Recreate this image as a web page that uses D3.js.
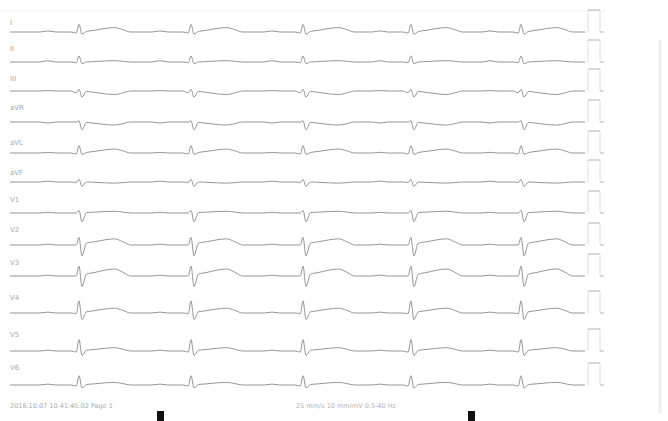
<!DOCTYPE html>
<html>
<head>
<meta charset="utf-8">
<script src="https://cdn.jsdelivr.net/npm/d3@7"></script>
<style>
  html, body { margin: 0; padding: 0; background: #fff; }
  svg { display: block; }
</style>
</head>
<body>
<svg id="ecg" width="668" height="421"></svg>
<script>
// Twelve-lead resting ECG, 25 mm/s, 10 mm/mV

const leads = ["I", "II", "III", "aVR", "aVL", "aVF", "V1", "V2", "V3", "V4", "V5", "V6"];

// QRS peak times (s) of the five captured beats
const beatTimes = [0.300, 0.787, 1.274, 1.743, 2.222];

// Wave amplitudes per lead (mV)
const pAmp = [0.05, 0.06, 0.02, -0.05, 0.03, 0.04, 0.03, 0.04, 0.04, 0.04, 0.04, 0.04];
const qAmp = [-0.05, -0.03, -0.08, 0.00, -0.05, -0.02, 0.00, 0.00, 0.00, -0.03, -0.05, -0.05];
const rAmp = [0.35, 0.28, 0.08, 0.06, 0.33, 0.12, 0.12, 0.35, 0.45, 0.55, 0.52, 0.42];
const sAmp = [-0.10, -0.08, -0.28, -0.36, -0.06, -0.20, -0.40, -0.50, -0.48, -0.30, -0.20, -0.14];
const stAmp = [0.02, 0.00, -0.02, -0.02, 0.02, 0.00, 0.02, 0.08, 0.08, 0.05, 0.03, 0.02];
const tAmp = [0.20, 0.06, -0.16, -0.14, 0.18, -0.05, 0.08, 0.28, 0.32, 0.22, 0.15, 0.12];

// Beat template: time offset from R peak (s) and which wave the point belongs to
const tmplOffsets = [-0.17, -0.135, -0.10, -0.035, -0.012, 0.0, 0.013, 0.032, 0.07, 0.11, 0.155, 0.19, 0.225];
const tmplWaves   = ["0", "P", "0", "0", "Q", "R", "S", "ST", "T1", "T2", "T", "T3", "0"];

const footerLeft = "2016.10.07 10:41:45.02    Page 1";
const footerMid = "25 mm/s  10 mm/mV  0.5-40 Hz";

// ---- layout ----
const W = 668, H = 421;
const svg = d3.select("#ecg");
const rowBase = [32, 62, 91, 122, 153, 182, 213, 245, 276, 313, 351, 385];
const labelY = [23, 49, 79, 108, 143, 173, 200, 230, 263, 298, 335, 368];
const mvPx = 22;

const x = d3.scaleLinear().domain([0, 2.5]).range([10, 585]);

// panel frame
svg.append("rect").attr("x", 0).attr("y", 0).attr("width", W).attr("height", H).attr("fill", "#fff");
svg.append("line").attr("x1", 0).attr("x2", 605).attr("y1", 11).attr("y2", 11)
  .attr("stroke", "#f2f2f2").attr("stroke-width", 1);
svg.append("line").attr("x1", 660).attr("x2", 660).attr("y1", 40).attr("y2", 413)
  .attr("stroke", "#f0f0f4").attr("stroke-width", 3);

function waveValue(w, i) {
  switch (w) {
    case "P": return pAmp[i];
    case "Q": return qAmp[i];
    case "R": return rAmp[i];
    case "S": return sAmp[i];
    case "ST": return stAmp[i];
    case "T1": return stAmp[i] + (tAmp[i] - stAmp[i]) * 0.35;
    case "T2": return stAmp[i] + (tAmp[i] - stAmp[i]) * 0.75;
    case "T": return tAmp[i];
    case "T3": return tAmp[i] * 0.55;
    default: return 0;
  }
}

const traces = svg.append("g");
const cals = svg.append("g");
const labels = svg.append("g").attr("opacity", 0.99);

leads.forEach((name, i) => {
  const y = d3.scaleLinear().domain([-1, 1]).range([rowBase[i] + mvPx, rowBase[i] - mvPx]);
  const pts = [[0, 0]];
  beatTimes.forEach(bt => {
    tmplOffsets.forEach((dt, k) => pts.push([bt + dt, waveValue(tmplWaves[k], i)]));
  });
  pts.push([2.5, 0]);

  const line = d3.line().x(d => x(d[0])).y(d => y(d[1])).curve(d3.curveMonotoneX);
  traces.append("path").datum(pts).attr("d", line)
    .attr("fill", "none").attr("stroke", "#959595").attr("stroke-width", 1)
    .attr("stroke-linejoin", "round");

  // 1 mV calibration pulse: faint risers, visible top and tail
  const x0 = x(2.5);
  cals.append("path").attr("d", d3.line()([[x0 + 3, y(0)], [x0 + 3, y(1)]]) + d3.line()([[x0 + 15, y(1)], [x0 + 15, y(0)]]))
    .attr("fill", "none").attr("stroke", "#dedede").attr("stroke-width", 1);
  cals.append("path").attr("d", d3.line()([[x0 + 3, y(1)], [x0 + 15, y(1)]]) + d3.line()([[x0 + 15, y(0)], [x0 + 19, y(0)]]))
    .attr("fill", "none").attr("stroke", "#b4b4b4").attr("stroke-width", 1);

  labels.append("text").attr("x", 10).attr("y", labelY[i]).attr("dy", "0.35em")
    .attr("font-family", "DejaVu Sans, sans-serif").attr("font-size", 7)
    .attr("fill", "#aaaaaa").text(name);
});

// footer
labels.append("text").attr("x", 10).attr("y", 408)
  .attr("font-family", "DejaVu Sans, sans-serif").attr("font-size", 6.5)
  .attr("fill", "#aaa").text(footerLeft);
labels.append("text").attr("x", 296).attr("y", 408)
  .attr("font-family", "DejaVu Sans, sans-serif").attr("font-size", 6.5)
  .attr("fill", "#b4b4b4").text(footerMid);

// page markers
[160, 471].forEach(cx => {
  svg.append("rect").attr("x", cx - 3).attr("y", 411).attr("width", 7).attr("height", 10).attr("fill", "#111");
});
</script>
</body>
</html>
